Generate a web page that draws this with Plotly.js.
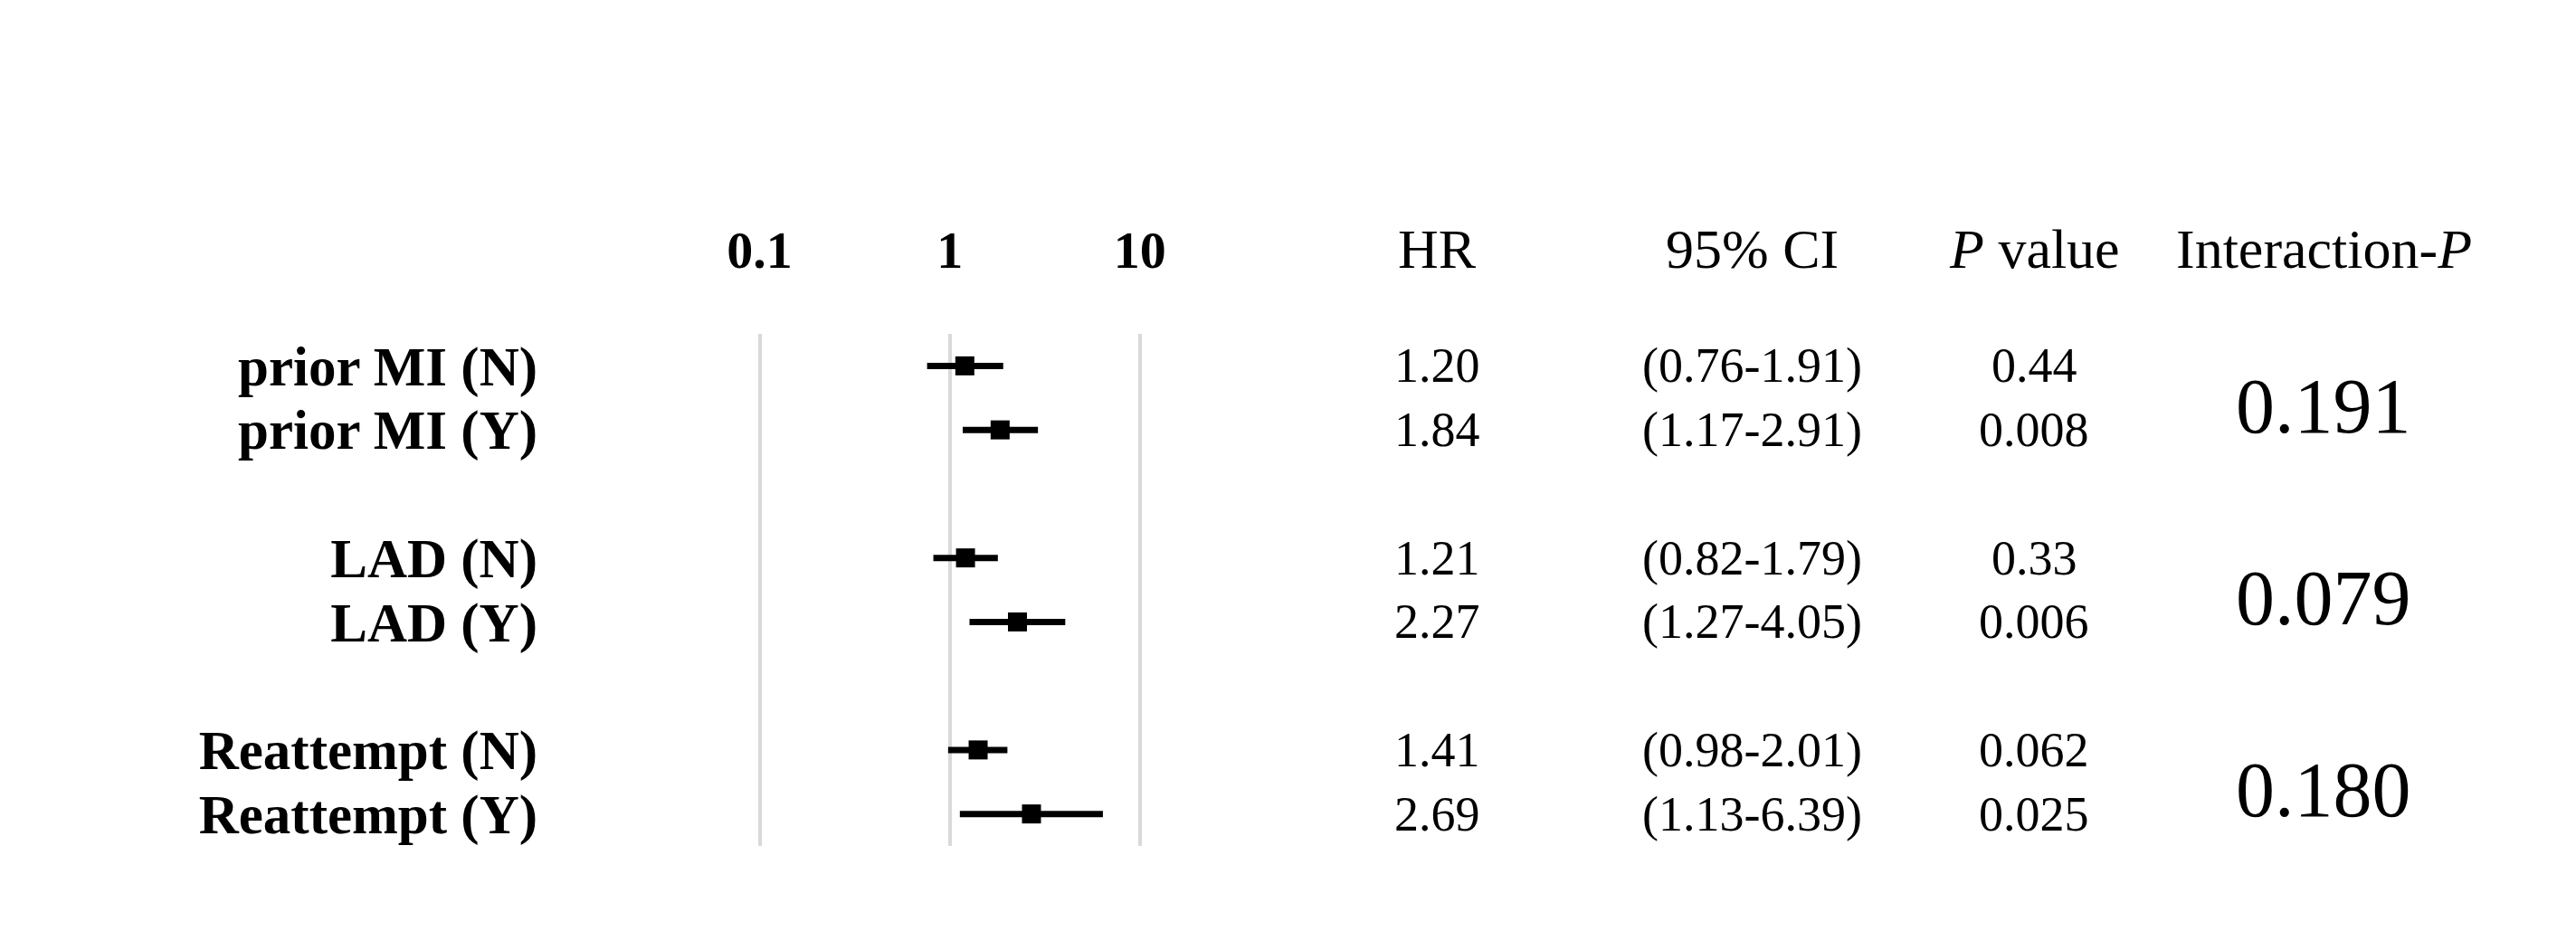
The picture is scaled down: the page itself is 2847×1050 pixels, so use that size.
<!DOCTYPE html>
<html>
<head>
<meta charset="utf-8">
<script src="https://cdn.plot.ly/plotly-3.0.1.min.js"></script>
<style>
  html, body { margin: 0; padding: 0; background: #fff; }
  #plot { width: 2847px; height: 1050px; }
</style>
</head>
<body>
<div id="plot"></div>
<script>
// Subgroup rows
let rowLabels = ["prior MI (N)", "prior MI (Y)", "LAD (N)", "LAD (Y)", "Reattempt (N)", "Reattempt (Y)"]
let hr = [1.20, 1.84, 1.21, 2.27, 1.41, 2.69]
let ciLow = [0.76, 1.17, 0.82, 1.27, 0.98, 1.13]
let ciHigh = [1.91, 2.91, 1.79, 4.05, 2.01, 6.39]
let pValues = ["0.44", "0.008", "0.33", "0.006", "0.062", "0.025"]

// One interaction P per pair of rows
let interactionP = ["0.191", "0.079", "0.180"]

// Axis ticks and column headers
let xTicks = [0.1, 1, 10]
let xTickText = ["0.1", "1", "10"]
let headers = ["HR", "95% CI", "<i>P</i> value", "Interaction-<i>P</i>"]

const W = 2847
const H = 1050
const serif = "Times New Roman, Liberation Serif, serif"

// rows come in pairs, leave one empty row between groups
let yPos = []
let errPlus = []
let errMinus = []
let hrText = []
let ciText = []
for (let i = 0; i < hr.length; i++) {
  yPos.push(i + Math.floor(i / 2));
  errPlus.push(ciHigh[i] - hr[i]);
  errMinus.push(hr[i] - ciLow[i]);
  hrText.push(hr[i].toFixed(2));
  ciText.push("(" + ciLow[i].toFixed(2) + "-" + ciHigh[i].toFixed(2) + ")");
}

let trace = {
  x: hr,
  y: yPos,
  type: "scatter",
  mode: "markers",
  marker: { symbol: "square", size: 21, color: "#000" },
  error_x: {
    type: "data",
    symmetric: false,
    array: errPlus,
    arrayminus: errMinus,
    color: "#000",
    thickness: 7,
    width: 0
  },
  hoverinfo: "skip",
  showlegend: false
};

// pixel columns of the table (centres)
let colX = [1588, 1936, 2248, 2568]
let headerY = 275

let annotations = []
headers.forEach(function (h, j) {
  annotations.push({
    xref: "paper", yref: "paper",
    x: colX[j] / W, y: (H - headerY) / H,
    text: h, showarrow: false,
    xanchor: "center", yanchor: "middle",
    font: { family: serif, size: 62, color: "#000" }
  });
});

let columns = [hrText, ciText, pValues]
columns.forEach(function (col, j) {
  for (let i = 0; i < col.length; i++) {
    annotations.push({
      xref: "paper", yref: "y",
      x: colX[j] / W, y: yPos[i],
      text: col[i], showarrow: false,
      xanchor: "center", yanchor: "middle",
      font: { family: serif, size: 54, color: "#000" }
    });
  }
});

for (let g = 0; g < interactionP.length; g++) {
  annotations.push({
    xref: "paper", yref: "y",
    x: colX[3] / W, y: yPos[g * 2] + 0.63,
    text: interactionP[g], showarrow: false,
    xanchor: "center", yanchor: "middle",
    font: { family: serif, size: 86, color: "#000" }
  });
}

let layout = {
  width: W,
  height: H,
  margin: { l: 0, r: 0, t: 0, b: 0, pad: 0 },
  paper_bgcolor: "#fff",
  plot_bgcolor: "#fff",
  xaxis: {
    type: "log",
    domain: [610 / W, 1330 / W],
    range: [-2.0924, 1.334],
    side: "top",
    tickvals: xTicks,
    ticktext: xTickText,
    ticks: "",
    ticklabelstandoff: 60,
    showline: false,
    zeroline: false,
    showgrid: true,
    gridcolor: "#d9d9d9",
    gridwidth: 4,
    tickfont: { family: serif, size: 58, color: "#000", weight: 700 },
    fixedrange: true
  },
  yaxis: {
    domain: [(H - 935) / H, (H - 369) / H],
    range: [7.5, -0.5],
    tickvals: yPos,
    ticktext: rowLabels,
    ticks: "",
    ticklabelstandoff: 15,
    showline: false,
    zeroline: false,
    showgrid: false,
    tickfont: { family: serif, size: 61, color: "#000", weight: 700 },
    fixedrange: true
  },
  annotations: annotations
};

Plotly.newPlot("plot", [trace], layout, { displayModeBar: false, staticPlot: true });
</script>
</body>
</html>
